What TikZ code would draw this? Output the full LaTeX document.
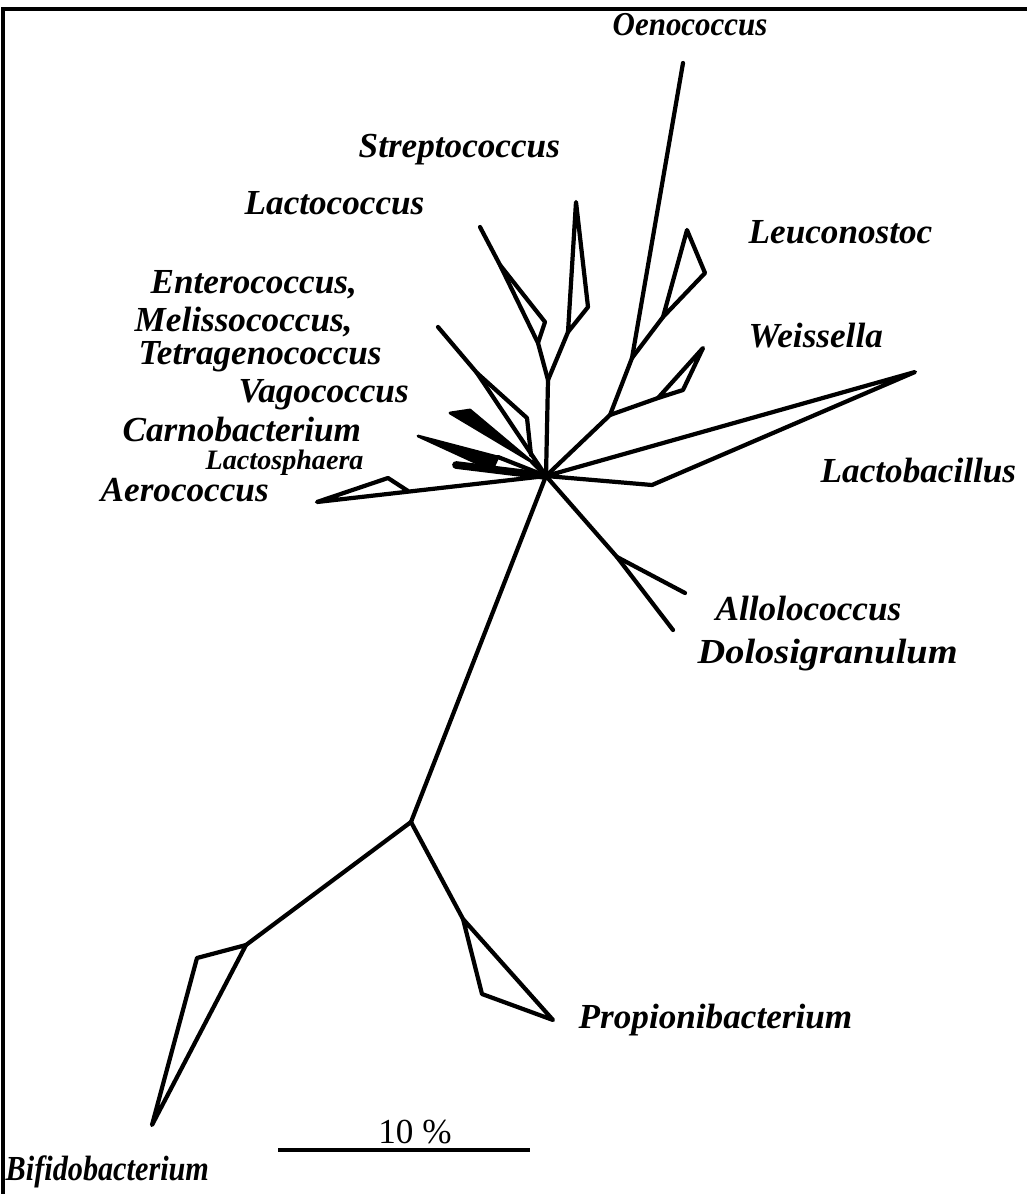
\documentclass[tikz,border=0pt]{standalone}
\usepackage{fontspec}
\setmainfont{Liberation Serif}
\begin{document}
\begin{tikzpicture}[x=0.01cm,y=-0.01cm,
  branch/.style={line width=1.2pt,line join=round,line cap=round},
  wedge/.style={fill=black,draw=black,line width=0.8pt,line join=round},
  taxon/.style={anchor=west,inner sep=0pt,font=\fontsize{10}{12}\selectfont\bfseries\itshape}]
  \useasboundingbox (0,0) rectangle (1027,1194);
  % frame
  \draw[line width=1.2pt] (3,1194) -- (3,9) -- (1027,9);
  % inner nodes
  \coordinate (C) at (546,476);
  \coordinate (R) at (411,822);
  \coordinate (S) at (548,380);
  \coordinate (W) at (610,415);
  \coordinate (L) at (632,358);
  \coordinate (AD) at (617,557);
  % trunk and root side
  \draw[branch] (C) -- (R);
  \coordinate (bf0) at (246,945);
  \coordinate (bf1) at (197,958);
  \coordinate (bf2) at (152,1125);
  \draw[branch] (R) -- (bf0);
  \draw[branch] (bf0) -- (bf1) -- (bf2) -- cycle;
  \coordinate (pr0) at (463,919);
  \coordinate (pr1) at (482,994);
  \coordinate (pr2) at (553,1020);
  \draw[branch] (R) -- (pr0);
  \draw[branch] (pr0) -- (pr1) -- (pr2) -- cycle;
  % Streptococcus and Lactococcus
  \draw[branch] (C) -- (S);
  \coordinate (st0) at (568,332);
  \coordinate (st1) at (576,202);
  \coordinate (st2) at (588,307);
  \draw[branch] (S) -- (st0);
  \draw[branch] (st0) -- (st1) -- (st2) -- cycle;
  \coordinate (lc0) at (538,343);
  \coordinate (lc1) at (500,265);
  \coordinate (lc2) at (480,227);
  \coordinate (lc3) at (545,322);
  \draw[branch] (S) -- (lc0) -- (lc1) -- (lc2);
  \draw[branch] (lc1) -- (lc3) -- (lc0);
  % Enterococcus group
  \coordinate (en0) at (477,373);
  \coordinate (en1) at (438,327);
  \coordinate (en2) at (527,418);
  \coordinate (en3) at (531,455);
  \draw[branch] (C) -- (en0) -- (en1);
  \draw[branch] (en0) -- (en2) -- (en3);
  % Vagococcus, Carnobacterium, Lactosphaera
  \coordinate (va0) at (450,413);
  \coordinate (va1) at (470,410);
  \coordinate (va2) at (532,462);
  \draw[wedge] (va0) -- (va1) -- (va2) -- cycle;
  \draw[branch] (va2) -- (C);
  \coordinate (ca0) at (418,436);
  \coordinate (ca1) at (498,457);
  \coordinate (ca2) at (492,470);
  \draw[wedge] (ca0) -- (ca1) -- (ca2) -- cycle;
  \draw[branch] (ca1) -- (C);
  \coordinate (ls0) at (456,465);
  \draw[branch,line width=2.2pt] (ls0) -- (C);
  % Aerococcus
  \coordinate (ae0) at (408,491);
  \coordinate (ae1) at (388,478);
  \coordinate (ae2) at (317,502);
  \draw[branch] (C) -- (ae2) -- (ae1) -- (ae0);
  % Lactobacillus
  \coordinate (lb0) at (652,485);
  \coordinate (lb1) at (915,372);
  \draw[branch] (C) -- (lb1) -- (lb0) -- cycle;
  % Oenococcus, Leuconostoc, Weissella
  \coordinate (oe) at (683,63);
  \draw[branch] (C) -- (W) -- (L) -- (oe);
  \coordinate (le0) at (663,317);
  \coordinate (le1) at (687,230);
  \coordinate (le2) at (705,273);
  \draw[branch] (L) -- (le0);
  \draw[branch] (le0) -- (le1) -- (le2) -- cycle;
  \coordinate (we0) at (658,398);
  \coordinate (we1) at (703,348);
  \coordinate (we2) at (683,390);
  \draw[branch] (W) -- (we0);
  \draw[branch] (we0) -- (we1) -- (we2) -- cycle;
  % Allolococcus, Dolosigranulum
  \coordinate (al) at (685,593);
  \coordinate (do) at (673,630);
  \draw[branch] (C) -- (AD) -- (al);
  \draw[branch] (AD) -- (do);
  % scale bar
  \coordinate (sb0) at (278,1150);
  \coordinate (sb1) at (530,1150);
  \draw[line width=1.4pt] (sb0) -- (sb1);
  \node[font=\fontsize{10}{12}\selectfont] (sbl) at (415,1132) {10 \%};
  % taxa
  \node[taxon] (tOeno) at (612,25) {\scalebox{0.88}[0.95]{Oenococcus}};
  \node[taxon] (tStrep) at (358,150) {Streptococcus};
  \node[taxon] (tLacto) at (244,203) {Lactococcus};
  \node[taxon] (tLeuco) at (748,232) {Leuconostoc};
  \node[taxon] (tEnte) at (150,285) {Enterococcus,};
  \node[taxon] (tMeli) at (134,322) {Melissococcus,};
  \node[taxon] (tTetr) at (138,357) {Tetragenococcus};
  \node[taxon] (tWeis) at (748,336) {Weissella};
  \node[taxon] (tVago) at (238,395) {Vagococcus};
  \node[taxon] (tCarn) at (122,430) {Carnobacterium};
  \node[taxon,font=\fontsize{8}{10}\selectfont\bfseries\itshape] (tLsph) at (205,463) {Lactosphaera};
  \node[taxon] (tAero) at (100,490) {Aerococcus};
  \node[taxon] (tLbac) at (820,471) {Lactobacillus};
  \node[taxon] (tAllo) at (715,608) {Allolococcus};
  \node[taxon] (tDolo) at (697,655) {\scalebox{1.09}[1]{Dolosigranulum}};
  \node[taxon] (tProp) at (578,1020) {Propionibacterium};
  \node[taxon] (tBifi) at (5,1172) {\scalebox{0.86}[1]{Bifidobacterium}};
\end{tikzpicture}
\end{document}
